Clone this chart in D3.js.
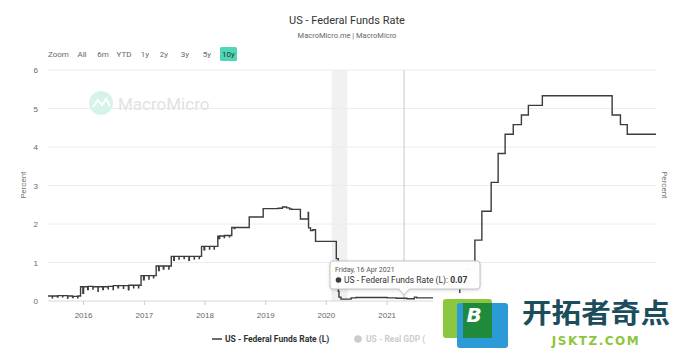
<!DOCTYPE html>
<html>
<head>
<meta charset="utf-8">
<script src="https://cdn.jsdelivr.net/npm/d3@7"></script>
<style>
  body { margin: 0; background: #fff; }
  svg { display: block; font-family: Roboto, "Noto Sans", sans-serif; }
</style>
</head>
<body>
<div id="chart"></div>
<script>
/**
 * Data (effective fed funds rate)
 */
const rateDates = [
  "2015-06-04", "2015-06-30", "2015-07-01", "2015-07-31", "2015-08-03", "2015-08-31", "2015-09-01",
  "2015-09-30", "2015-10-01", "2015-10-30", "2015-11-02", "2015-11-30", "2015-12-01", "2015-12-17",
  "2015-12-31", "2016-01-04", "2016-01-29", "2016-02-01", "2016-02-29", "2016-03-01", "2016-03-31",
  "2016-04-01", "2016-04-29", "2016-05-02", "2016-05-31", "2016-06-01", "2016-06-30", "2016-07-01",
  "2016-07-29", "2016-08-01", "2016-08-31", "2016-09-01", "2016-09-30", "2016-10-03", "2016-10-31",
  "2016-11-01", "2016-11-30", "2016-12-01", "2016-12-15", "2016-12-30", "2017-01-03", "2017-01-31",
  "2017-02-01", "2017-02-28", "2017-03-01", "2017-03-16", "2017-03-31", "2017-04-03", "2017-04-28",
  "2017-05-01", "2017-05-31", "2017-06-01", "2017-06-15", "2017-06-30", "2017-07-03", "2017-07-31",
  "2017-08-01", "2017-08-31", "2017-09-01", "2017-09-29", "2017-10-02", "2017-10-31", "2017-11-01",
  "2017-11-30", "2017-12-01", "2017-12-14", "2017-12-29", "2018-01-02", "2018-01-31", "2018-02-01",
  "2018-02-28", "2018-03-01", "2018-03-22", "2018-03-29", "2018-04-02", "2018-04-30", "2018-05-01",
  "2018-05-31", "2018-06-01", "2018-06-14", "2018-06-29", "2018-07-02", "2018-09-27", "2018-12-20",
  "2019-03-20", "2019-04-15", "2019-05-10", "2019-05-28", "2019-06-10", "2019-08-01", "2019-09-17",
  "2019-09-19", "2019-10-01", "2019-10-15", "2019-10-31", "2020-03-04", "2020-03-16", "2020-03-20",
  "2020-04-01", "2020-06-01", "2020-07-01", "2020-09-01", "2021-01-04", "2021-03-01", "2021-05-03",
  "2021-06-17", "2021-07-01", "2022-03-17", "2022-05-05", "2022-06-16", "2022-07-28", "2022-09-22",
  "2022-11-03", "2022-12-15", "2023-02-02", "2023-03-23", "2023-05-04", "2023-07-27", "2024-09-19",
  "2024-11-08", "2024-12-19", "2025-06-10"
];
const rateValues = [
  0.13, 0.08, 0.13, 0.10, 0.14, 0.11, 0.14,
  0.07, 0.13, 0.09, 0.12, 0.08, 0.13, 0.37,
  0.20, 0.37, 0.30, 0.38, 0.31, 0.37, 0.25,
  0.37, 0.30, 0.37, 0.32, 0.38, 0.30, 0.40,
  0.34, 0.40, 0.33, 0.40, 0.29, 0.41, 0.34,
  0.41, 0.34, 0.41, 0.66, 0.55, 0.66, 0.57,
  0.66, 0.60, 0.66, 0.91, 0.79, 0.91, 0.83,
  0.91, 0.83, 0.91, 1.16, 1.06, 1.16, 1.09,
  1.16, 1.10, 1.16, 1.06, 1.16, 1.09, 1.16,
  1.10, 1.16, 1.42, 1.33, 1.42, 1.35, 1.42,
  1.35, 1.42, 1.68, 1.62, 1.69, 1.65, 1.70,
  1.67, 1.70, 1.91, 1.88, 1.91, 2.18, 2.40,
  2.41, 2.44, 2.42, 2.39, 2.38, 2.13, 2.30,
  1.90, 1.83, 1.85, 1.55, 1.10, 0.25, 0.10,
  0.05, 0.08, 0.09, 0.09, 0.08, 0.07, 0.06,
  0.10, 0.08, 0.33, 0.83, 1.58, 2.33, 3.08,
  3.83, 4.33, 4.58, 4.83, 5.08, 5.33, 4.83,
  4.58, 4.33, 4.33
];

const yTicks = [0, 1, 2, 3, 4, 5, 6];
const yearTicks = ["2016", "2017", "2018", "2019", "2020", "2021"];
const rangeButtons = ["All", "6m", "YTD", "1y", "2y", "3y", "5y", "10y"];
const recession = ["2020-02-05", "2020-05-10"];
const hoverDate = "2021-04-16";
const hoverValue = 0.07;

const width = 683;
const height = 353;
const parse = d3.timeParse("%Y-%m-%d");

const data = rateDates.map((d, i) => ({ date: parse(d), value: rateValues[i] }));

const svg = d3.select("#chart")
  .append("svg")
  .attr("width", width)
  .attr("height", height);

const x = d3.scaleTime()
  .domain([parse("2015-06-04"), parse("2025-06-10")])
  .range([48, 656]);

const y = d3.scaleLinear()
  .domain([0, 6])
  .range([301, 70]);

/**
 * Title and range selector
 */
svg.append("text")
  .attr("x", 347).attr("y", 24)
  .attr("text-anchor", "middle")
  .style("font-size", "11px")
  .attr("fill", "#333")
  .text("US - Federal Funds Rate");

svg.append("text")
  .attr("x", 347).attr("y", 38)
  .attr("text-anchor", "middle")
  .style("font-size", "7.5px")
  .attr("fill", "#666")
  .text("MacroMicro.me | MacroMicro");

svg.append("text")
  .attr("x", 48).attr("y", 57)
  .style("font-size", "8px")
  .attr("fill", "#666")
  .text("Zoom");

const btnX = [82, 103, 124, 145, 164, 185, 207, 228.5];
rangeButtons.forEach((b, i) => {
  if (b === "10y") {
    svg.append("rect")
      .attr("x", 220).attr("y", 47)
      .attr("width", 17).attr("height", 14)
      .attr("rx", 1.5)
      .attr("fill", "#4fd6b4");
  }
  svg.append("text")
    .attr("x", btnX[i]).attr("y", 57)
    .attr("text-anchor", "middle")
    .style("font-size", "8px")
    .attr("fill", b === "10y" ? "#1f3b33" : "#666")
    .text(b);
});

/**
 * Grid, recession band, watermark
 */
svg.append("rect")
  .attr("x", x(parse(recession[0])))
  .attr("y", y(6))
  .attr("width", x(parse(recession[1])) - x(parse(recession[0])))
  .attr("height", y(0) - y(6))
  .attr("fill", "#f1f1f1");

svg.append("g")
  .selectAll("line")
  .data(yTicks)
  .join("line")
  .attr("x1", 48).attr("x2", 656)
  .attr("y1", d => y(d)).attr("y2", d => y(d))
  .attr("stroke", d => d === 0 ? "#d8d8d8" : "#ececec")
  .attr("stroke-width", 1);

// MacroMicro watermark
svg.append("circle")
  .attr("cx", 101).attr("cy", 103).attr("r", 12)
  .attr("fill", "#d6f3ea");
svg.append("path")
  .attr("d", "M93,107 L98,100 L102,105 L106,99 L110,106")
  .attr("fill", "none")
  .attr("stroke", "#fff")
  .attr("stroke-width", 2);
svg.append("text")
  .attr("x", 118).attr("y", 110)
  .style("font-size", "17px")
  .attr("fill", "#e2e2e2")
  .text("MacroMicro");

/**
 * Axes
 */
const xAxis = svg.append("g")
  .attr("transform", `translate(0, ${y(0)})`)
  .call(d3.axisBottom(x)
    .tickValues(yearTicks.map(d => d3.timeParse("%Y")(d)))
    .tickFormat(d3.timeFormat("%Y"))
    .tickSize(4)
    .tickPadding(7));
xAxis.select(".domain").remove();
xAxis.selectAll("line").attr("stroke", "#ccc");
xAxis.selectAll("text").attr("fill", "#666").style("font-size", "8px");

const yAxis = svg.append("g")
  .attr("transform", "translate(48, 0)")
  .call(d3.axisLeft(y).tickValues(yTicks).tickFormat(d3.format("d")).tickSize(0).tickPadding(10));
yAxis.select(".domain").remove();
yAxis.selectAll("text").attr("fill", "#666").style("font-size", "8px");

svg.append("text")
  .attr("transform", "translate(26, 185) rotate(-90)")
  .attr("text-anchor", "middle")
  .style("font-size", "8px")
  .attr("fill", "#777")
  .text("Percent");

svg.append("text")
  .attr("transform", "translate(662, 185) rotate(90)")
  .attr("text-anchor", "middle")
  .style("font-size", "8px")
  .attr("fill", "#777")
  .text("Percent");

/**
 * Crosshair and the line
 */
svg.append("line")
  .attr("x1", x(parse(hoverDate))).attr("x2", x(parse(hoverDate)))
  .attr("y1", y(6)).attr("y2", y(0))
  .attr("stroke", "#c8c8c8")
  .attr("stroke-width", 1);

const line = d3.line()
  .x(d => x(d.date))
  .y(d => y(d.value))
  .curve(d3.curveStepAfter);

svg.append("path")
  .datum(data)
  .attr("d", line)
  .attr("fill", "none")
  .attr("stroke", "#3b3b40")
  .attr("stroke-width", 1.4);

/**
 * Tooltip
 */
const hx = x(parse(hoverDate));
const tip = svg.append("g");
tip.append("path")
  .attr("d", `M333,261 H477 Q480,261 480,264 V286 Q480,289 477,289 H${hx + 5} L${hx},295 L${hx - 5},289 H333 Q330,289 330,286 V264 Q330,261 333,261 Z`)
  .attr("fill", "rgba(255,255,255,0.97)")
  .attr("stroke", "#c4c4c4")
  .attr("stroke-width", 1)
  .style("filter", "drop-shadow(0px 1px 1.5px rgba(0,0,0,0.15))");
tip.append("text")
  .attr("x", 335).attr("y", 272)
  .style("font-size", "7px")
  .attr("fill", "#555")
  .text("Friday, 16 Apr 2021");
tip.append("circle")
  .attr("cx", 338.5).attr("cy", 280)
  .attr("r", 2.8)
  .attr("fill", "#3b3b40");
const tipText = tip.append("text")
  .attr("x", 344).attr("y", 283)
  .style("font-size", "8.5px")
  .attr("fill", "#333");
tipText.append("tspan").text("US - Federal Funds Rate (L): ");
tipText.append("tspan").style("font-weight", "bold").text(hoverValue.toFixed(2));

/**
 * Legend
 */
svg.append("line")
  .attr("x1", 212).attr("x2", 222)
  .attr("y1", 339).attr("y2", 339)
  .attr("stroke", "#3b3b40")
  .attr("stroke-width", 1.5);
svg.append("text")
  .attr("x", 225).attr("y", 342)
  .style("font-size", "8.5px")
  .style("font-weight", "bold")
  .attr("fill", "#333")
  .text("US - Federal Funds Rate (L)");
svg.append("circle")
  .attr("cx", 358).attr("cy", 339).attr("r", 3.8)
  .attr("fill", "#ccc");
svg.append("text")
  .attr("x", 366).attr("y", 342)
  .style("font-size", "8.5px")
  .style("font-weight", "bold")
  .attr("fill", "#ccc")
  .text("US - Real GDP (");

/**
 * Site logo overlay
 */
const logo = svg.append("g");
logo.append("rect")
  .attr("x", 433).attr("y", 293)
  .attr("width", 250).attr("height", 60)
  .attr("fill", "#fff");
logo.append("rect")
  .attr("x", 443).attr("y", 299).attr("width", 49).attr("height", 39)
  .attr("rx", 3).attr("fill", "#8cc63f");
logo.append("rect")
  .attr("x", 457).attr("y", 303).attr("width", 51).attr("height", 45)
  .attr("rx", 3).attr("fill", "#2b9ad6");
logo.append("rect")
  .attr("x", 463).attr("y", 303).attr("width", 29).attr("height", 35)
  .attr("fill", "#1f8a3c");
logo.append("text")
  .attr("x", 474).attr("y", 322)
  .attr("text-anchor", "middle")
  .style("font-size", "20px")
  .style("font-weight", "bold")
  .style("font-style", "italic")
  .style("font-family", "'DejaVu Sans', sans-serif")
  .attr("fill", "#fff")
  .text("B");
logo.append("text")
  .attr("x", 522).attr("y", 323)
  .attr("textLength", 148)
  .attr("lengthAdjust", "spacingAndGlyphs")
  .style("font-size", "27px")
  .style("font-weight", "bold")
  .style("font-family", "'Noto Sans CJK SC', sans-serif")
  .attr("fill", "#1c4d5c")
  .text("开拓者奇点");
logo.append("text")
  .attr("x", 596).attr("y", 345)
  .attr("text-anchor", "middle")
  .style("font-size", "12px")
  .style("font-weight", "bold")
  .style("letter-spacing", "1.5px")
  .style("font-family", "'DejaVu Sans', sans-serif")
  .attr("fill", "#8cc63f")
  .text("JSKTZ.COM");
</script>
</body>
</html>
